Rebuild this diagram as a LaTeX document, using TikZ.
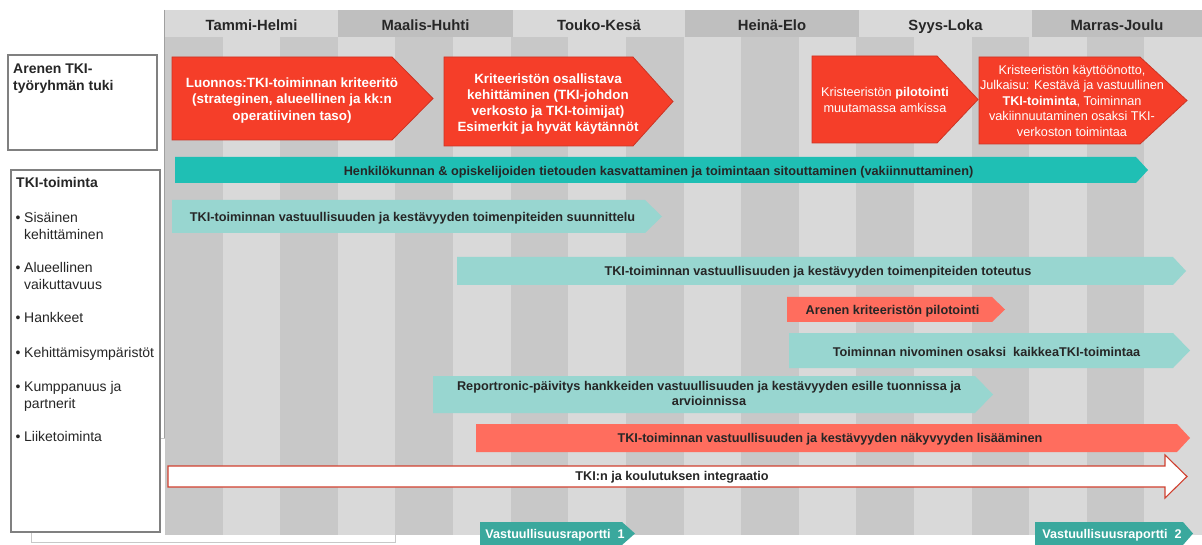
\documentclass[tikz,border=0pt]{standalone}
\usepackage{fontspec}
\setmainfont{Liberation Sans}
\definecolor{stripeD}{HTML}{C8C8C8}
\definecolor{stripeL}{HTML}{D9D9D9}
\definecolor{hdrD}{HTML}{BFBFBF}
\definecolor{hdrL}{HTML}{D9D9D9}
\definecolor{redF}{HTML}{F53E29}
\definecolor{redB}{HTML}{CC3424}
\definecolor{coralF}{HTML}{FF6D5E}
\definecolor{tealF}{HTML}{1FBFB4}
\definecolor{lteal}{HTML}{98D6D0}
\definecolor{dteal}{HTML}{3AA89D}
\definecolor{txt}{HTML}{262626}
\definecolor{boxB}{HTML}{808080}
\definecolor{wBorder}{HTML}{D0402F}
\newcommand{\arrowbar}[6]{\path[#6] (#1,#2) -- (#5,#2) -- (#3,{(#2+#4)/2}) -- (#5,#4) -- (#1,#4) -- cycle;}
\begin{document}
\begin{tikzpicture}[x=1pt,y=-1pt,
  hdr/.style={text=txt,font=\fontsize{14.8}{17}\selectfont\bfseries,inner sep=0pt,anchor=base},
  redtxt/.style={text=white,font=\fontsize{13.4}{16.5}\selectfont\bfseries,align=center,inner sep=0pt,anchor=north},
  redtxtn/.style={text=white,font=\fontsize{12.7}{15.4}\selectfont,align=center,inner sep=0pt,anchor=north},
  bartxt/.style={text=txt,font=\fontsize{12.7}{15.7}\selectfont\bfseries,align=center,inner sep=0pt,anchor=base},
  vrtxt/.style={text=white,font=\fontsize{12.6}{15}\selectfont\bfseries,inner sep=0pt,anchor=base},
  lft/.style={text=txt,font=\fontsize{14}{17}\selectfont,inner sep=0pt,anchor=base west},
  lftb/.style={lft,font=\fontsize{14}{17}\selectfont\bfseries},
  redshape/.style={fill=redF,draw=redB,line width=0.8pt},
  tealshape/.style={fill=tealF},
  ltealshape/.style={fill=lteal},
  coralshape/.style={fill=coralF},
  vrshape/.style={fill=dteal},
  leftbox/.style={draw=boxB,line width=1.3pt,fill=white}
]
\useasboundingbox (0,0) rectangle (1202,545);
\fill[white] (0,0) rectangle (1202,545);
% hidden back rectangle
\draw[draw=stripeD,line width=1pt,fill=white] (31,438) rectangle (395,542.5);
% stripes
\foreach \i in {0,...,17} {
  \pgfmathsetmacro{\xa}{165+\i*57.611}
  \pgfmathsetmacro{\xb}{165+(\i+1)*57.611}
  \pgfmathtruncatemacro{\parity}{mod(\i,2)}
  \ifnum\parity=0
    \fill[stripeD] (\xa,37) rectangle (\xb,535);
  \else
    \fill[stripeL] (\xa,37) rectangle (\xb,535);
  \fi
}
\draw[draw=stripeD!80!black,line width=1pt] (164.5,10) -- (164.5,438);
% header
\fill[hdrL] (165,10) rectangle (338,37);
\fill[hdrD] (338,10) rectangle (513,37);
\fill[hdrL] (513,10) rectangle (685,37);
\fill[hdrD] (685,10) rectangle (859,37);
\fill[hdrL] (859,10) rectangle (1032,37);
\fill[hdrD] (1032,10) rectangle (1202,37);
\node[hdr] (h1) at (251.5,30.5) {Tammi-Helmi};
\node[hdr] (h2) at (425.5,30.5) {Maalis-Huhti};
\node[hdr] (h3) at (599,30.5) {Touko-Kesä};
\node[hdr] (h4) at (772,30.5) {Heinä-Elo};
\node[hdr] (h5) at (945.5,30.5) {Syys-Loka};
\node[hdr] (h6) at (1117,30.5) {Marras-Joulu};
% left boxes
\draw[leftbox] (8,55) rectangle (157,150);
\node[lftb] (a1) at (13,74) {Arenen TKI-};
\node[lftb] (a2) at (13,91) {työryhmän tuki};
\draw[leftbox] (11,170) rectangle (160,532);
\node[lftb] (k0) at (16,188) {TKI-toiminta};
\node[lft] (k1b) at (15.5,223) {•};
\node[lft] (k1) at (24,223) {Sisäinen};
\node[lft] (k1x) at (24,240) {kehittäminen};
\node[lft] (k2b) at (15.5,273) {•};
\node[lft] (k2) at (24,273) {Alueellinen};
\node[lft] (k2x) at (24,290) {vaikuttavuus};
\node[lft] (k3b) at (15.5,323) {•};
\node[lft] (k3) at (24,323) {Hankkeet};
\node[lft] (k4b) at (15.5,357) {•};
\node[lft] (k4) at (24,357) {Kehittämisympäristöt};
\node[lft] (k5b) at (15.5,391) {•};
\node[lft] (k5) at (24,391) {Kumppanuus ja};
\node[lft] (k5x) at (24,408) {partnerit};
\node[lft] (k6b) at (15.5,441) {•};
\node[lft] (k6) at (24,441) {Liiketoiminta};
% red pentagons
\arrowbar{172}{57}{433}{140}{392}{redshape}
\node[redtxt] (p1) at (292,77.5) {Luonnos:TKI-toiminnan kriteeritö\\(strateginen, alueellinen ja kk:n\\operatiivinen taso)};
\arrowbar{444}{57}{673}{146}{633}{redshape}
\node[redtxt,font=\fontsize{13.4}{16.1}\selectfont\bfseries] (p2) at (548,73.5) {Kriteeristön osallistava\\kehittäminen (TKI-johdon\\verkosto ja TKI-toimijat)\\Esimerkit ja hyvät käytännöt};
\arrowbar{812}{56}{978}{143}{937}{redshape}
\node[redtxtn,font=\fontsize{12.7}{15.6}\selectfont] (p3) at (885,87.5) {Kristeeristön \textbf{pilotointi}\\muutamassa amkissa};
\arrowbar{979}{57}{1187}{144}{1140}{redshape}
\node[redtxtn] (p4) at (1072,65) {Kristeeristön käyttöönotto,\\Julkaisu: Kestävä ja vastuullinen\\\textbf{TKI-toiminta}, Toiminnan\\vakiinnuutaminen osaksi TKI-\\verkoston toimintaa};
% bars
\arrowbar{175}{157}{1148}{183}{1136}{tealshape}
\node[bartxt] (b1) at (658.5,176) {Henkilökunnan \& opiskelijoiden tietouden kasvattaminen ja toimintaan sitouttaminen (vakiinnuttaminen)};
\arrowbar{172}{200}{662}{233}{645}{ltealshape}
\node[bartxt] (b2) at (412.5,221.5) {TKI-toiminnan vastuullisuuden ja kestävyyden toimenpiteiden suunnittelu};
\arrowbar{457}{257}{1186}{285}{1173}{ltealshape}
\node[bartxt] (b3) at (818,276) {TKI-toiminnan vastuullisuuden ja kestävyyden toimenpiteiden toteutus};
\arrowbar{787}{297}{1005}{322}{992}{coralshape}
\node[bartxt] (b4) at (892.5,314.3) {Arenen kriteeristön pilotointi};
\arrowbar{789}{333}{1190}{368}{1173}{ltealshape}
\node[bartxt] (b5) at (986.5,356) {Toiminnan nivominen osaksi\ \ kaikkeaTKI-toimintaa};
\arrowbar{433}{376}{993}{413}{975}{ltealshape}
\node[bartxt,anchor=north] (b6) at (709,380.8) {Reportronic-päivitys hankkeiden vastuullisuuden ja kestävyyden esille tuonnissa ja\\arvioinnissa};
\arrowbar{476}{424}{1190}{452}{1177}{coralshape}
\node[bartxt] (b7) at (830,442.3) {TKI-toiminnan vastuullisuuden ja kestävyyden näkyvyyden lisääminen};
\path[fill=white,draw=wBorder,line width=1.1pt] (168,466) -- (1165,466) -- (1165,455) -- (1187,476.5) -- (1165,498) -- (1165,487) -- (168,487) -- cycle;
\node[bartxt] (b8) at (672,480.5) {TKI:n ja koulutuksen integraatio};
% reports
\arrowbar{480}{522}{635}{545}{622}{vrshape}
\node[vrtxt] (r1) at (555,538.8) {Vastuullisuusraportti\ \ 1};
\arrowbar{1035}{522}{1193}{545}{1183}{vrshape}
\node[vrtxt] (r2) at (1112,538.8) {Vastuullisuusraportti\ \ 2};
\end{tikzpicture}
\end{document}
